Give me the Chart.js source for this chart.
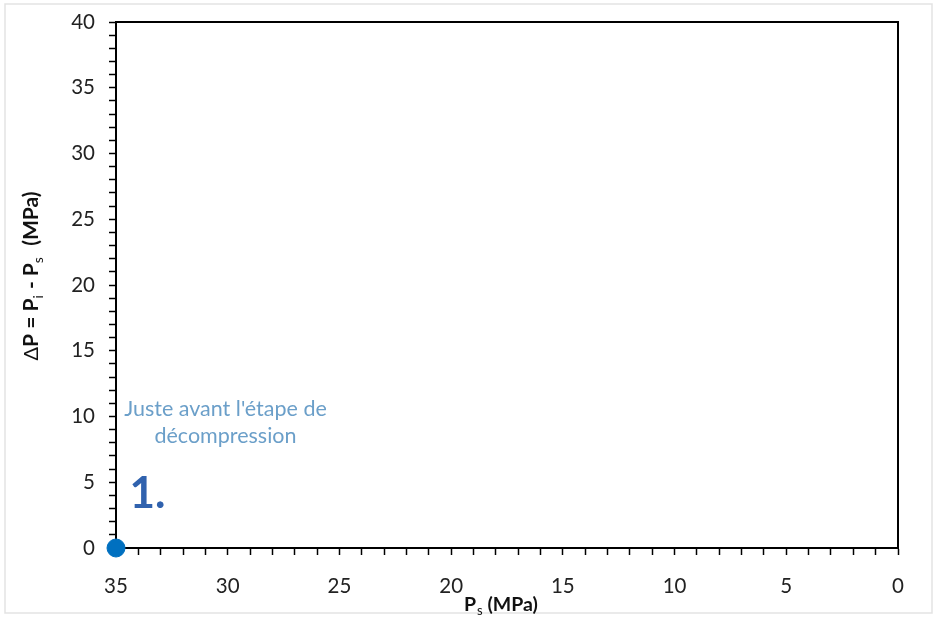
<!DOCTYPE html>
<html>
<head>
<meta charset="utf-8">
<script src="https://cdn.jsdelivr.net/npm/chart.js@4.4.0/dist/chart.umd.min.js"></script>
<style>
  html, body { margin: 0; padding: 0; background: #fff; }
  #wrap { width: 935px; height: 617px; position: relative; }
</style>
</head>
<body>
<div id="wrap"><canvas id="chart" width="935" height="617"></canvas></div>
<script>
// data
const psValues = [35];
const deltaPValues = [0];
const xRange = [0, 35];
const yRange = [0, 40];
const noteLines = ["Juste avant l'étape de", "décompression"];
const stepLabel = "1.";

const FONT = "Lato, 'Open Sans', sans-serif";

const frame = {
  id: "frame",
  beforeDraw(chart) {
    const c = chart.ctx;
    c.save();
    c.fillStyle = "#fff";
    c.fillRect(0, 0, chart.width, chart.height);
    c.strokeStyle = "#e3e3e3";
    c.lineWidth = 1.5;
    c.strokeRect(5, 4, chart.width - 8, chart.height - 8);
    c.restore();
  },
  afterDraw(chart) {
    const c = chart.ctx;
    const a = chart.chartArea;
    const x = chart.scales.x, y = chart.scales.y;
    c.save();
    // top and right border
    c.strokeStyle = "#000";
    c.lineWidth = 2;
    c.beginPath();
    c.moveTo(a.left, a.top);
    c.lineTo(a.right, a.top);
    c.lineTo(a.right, a.bottom);
    c.stroke();

    // x title: P_s (MPa)
    c.fillStyle = "#111";
    c.textBaseline = "alphabetic";
    const bx = 464, by = 611;
    c.font = "bold 19.5px " + FONT;
    c.fillText("P", bx, by);
    let w = c.measureText("P").width;
    c.font = "13px " + FONT;
    c.fillText("s", bx + w + 1, by + 4);
    let w2 = c.measureText("s").width;
    c.font = "bold 19.5px " + FONT;
    c.fillText(" (MPa)", bx + w + w2 + 1, by);

    // y title: ΔP = P_i - P_s  (MPa)
    const parts = [
      ["Δ", "20px", 0],
      ["P = P", "bold 21px", 0],
      ["i", "14px", 5],
      [" - P", "bold 21px", 0],
      ["s", "14px", 5],
      ["  (MPa)", "bold 21px", 0]
    ];
    let total = 0;
    parts.forEach(p => {
      c.font = p[1] + " " + FONT;
      total += c.measureText(p[0]).width + (p[1] === "14px" ? 1 : 0);
    });
    c.translate(38, 276);
    c.rotate(-Math.PI / 2);
    let px = -total / 2;
    parts.forEach(p => {
      c.font = p[1] + " " + FONT;
      c.fillText(p[0], px, p[2]);
      px += c.measureText(p[0]).width + (p[1] === "14px" ? 1 : 0);
    });
    c.restore();

    // annotations placed in data units
    c.save();
    c.textAlign = "center";
    c.textBaseline = "middle";
    c.fillStyle = "#6b9fc9";
    c.font = "21.5px " + FONT;
    c.fillText(noteLines[0], x.getPixelForValue(30.1), y.getPixelForValue(10.6));
    c.fillText(noteLines[1], x.getPixelForValue(30.1), y.getPixelForValue(8.5));
    c.textAlign = "left";
    c.fillStyle = "#3062ae";
    c.font = "bold 44px " + FONT;
    c.fillText(stepLabel, x.getPixelForValue(34.4), y.getPixelForValue(4.1));
    c.restore();
  }
};

const tickFont = { family: FONT, size: 20.5 };

new Chart(document.getElementById("chart"), {
  type: "scatter",
  data: {
    datasets: [{
      data: psValues.map((v, i) => ({ x: v, y: deltaPValues[i] })),
      backgroundColor: "#0070c0",
      borderColor: "#0070c0",
      pointRadius: 9,
      clip: false
    }]
  },
  options: {
    responsive: false,
    animation: false,
    layout: { padding: { left: 0, right: 37, top: 22, bottom: 0 } },
    plugins: { legend: { display: false }, tooltip: { enabled: false } },
    scales: {
      x: {
        type: "linear",
        reverse: true,
        min: xRange[0],
        max: xRange[1],
        afterFit: s => { s.height = 69; s.paddingLeft = 0; s.paddingRight = 0; },
        border: { display: true, color: "#000", width: 2 },
        grid: { drawOnChartArea: false, drawTicks: true, tickLength: 7, color: "#000", tickWidth: 1.5 },
        ticks: {
          stepSize: 1,
          autoSkip: false,
          maxRotation: 0,
          padding: 19,
          color: "#222",
          font: tickFont,
          callback: v => (v % 5 === 0 ? v : "")
        }
      },
      y: {
        type: "linear",
        min: yRange[0],
        max: yRange[1],
        afterFit: s => { s.width = 116; s.paddingTop = 0; s.paddingBottom = 0; },
        border: { display: true, color: "#000", width: 2 },
        grid: { drawOnChartArea: false, drawTicks: true, tickLength: 7, color: "#000", tickWidth: 1.5 },
        ticks: {
          stepSize: 1,
          autoSkip: false,
          padding: 14,
          color: "#222",
          font: tickFont,
          callback: v => (v % 5 === 0 ? v : "")
        }
      }
    }
  },
  plugins: [frame]
});
</script>
</body>
</html>
